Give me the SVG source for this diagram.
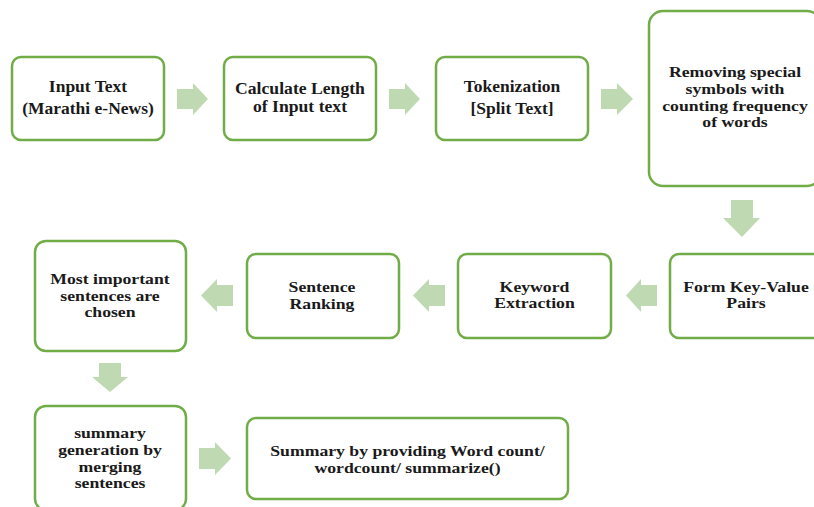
<svg xmlns="http://www.w3.org/2000/svg" width="814" height="507" viewBox="0 0 814 507">
<style>
.box{fill:#ffffff;stroke:#70AD47;stroke-width:2.5}
.arr{fill:#BFD9B2;stroke:none}
.t{font-family:"Liberation Serif","Times New Roman","DejaVu Serif",serif;font-weight:bold;fill:#1a1a1a;text-anchor:middle}
.t17{font-size:17px}
.t16{font-size:16.5px}
.t15{font-size:15px}
</style>
<rect width="814" height="507" fill="#ffffff"/>
<g id="connectors">
<polygon class="arr" points="177,89 193,89 193,83 208,99 193,115 193,109 177,109"/>
<polygon class="arr" points="389,89 405,89 405,83 420,99 405,115 405,109 389,109"/>
<polygon class="arr" points="601,89 617,89 617,83 633,99 617,115 617,109 601,109"/>
<polygon class="arr" points="731,200 753,200 753,218 760,218 742,237 723,218 731,218"/>
<polygon class="arr" points="657,285 641,285 641,279 626,295.5 641,312 641,306 657,306"/>
<polygon class="arr" points="445,285 429,285 429,279 413,295.5 429,312 429,306 445,306"/>
<polygon class="arr" points="233,285 217,285 217,279 201,295.5 217,312 217,306 233,306"/>
<polygon class="arr" points="99,363 121,363 121,377 128,377 110,392 92,377 99,377"/>
<polygon class="arr" points="199,448 215,448 215,442 231,458.5 215,475 215,469 199,469"/>
</g>
<g id="n1">
<rect class="box" x="12" y="57" width="152" height="83" rx="9"/>
<text class="t t17" transform="translate(88,92) scale(1.03,1)">Input  Text</text>
<text class="t t17" transform="translate(88,114) scale(1.03,1)">(Marathi  e-News)</text>
</g>
<g id="n2">
<rect class="box" x="224" y="57" width="152" height="83" rx="9"/>
<text class="t t16" transform="translate(300,94) scale(1.07,1)">Calculate Length</text>
<text class="t t16" transform="translate(300,112) scale(1.07,1)">of Input  text</text>
</g>
<g id="n3">
<rect class="box" x="436" y="57" width="152" height="83" rx="9"/>
<text class="t t17" transform="translate(512,92) scale(1.03,1)">Tokenization</text>
<text class="t t17" transform="translate(512,114) scale(1.03,1)">[Split  Text]</text>
</g>
<g id="n4">
<rect class="box" x="649" y="11" width="172" height="175" rx="14"/>
<text class="t t15" transform="translate(735,77) scale(1.18,1)">Removing special</text>
<text class="t t15" transform="translate(735,94) scale(1.18,1)">symbols  with</text>
<text class="t t15" transform="translate(735,111) scale(1.18,1)">counting frequency</text>
<text class="t t15" transform="translate(735,127) scale(1.18,1)">of words</text>
</g>
<g id="n5">
<rect class="box" x="670" y="254" width="152" height="84" rx="9"/>
<text class="t t15" transform="translate(746,292) scale(1.18,1)">Form Key-Value</text>
<text class="t t15" transform="translate(746,308) scale(1.18,1)">Pairs</text>
</g>
<g id="n6">
<rect class="box" x="458" y="254" width="153" height="84" rx="9"/>
<text class="t t15" transform="translate(534.5,292) scale(1.18,1)">Keyword</text>
<text class="t t15" transform="translate(534.5,308) scale(1.18,1)">Extraction</text>
</g>
<g id="n7">
<rect class="box" x="247" y="254" width="152" height="84" rx="9"/>
<text class="t t15" transform="translate(322,292) scale(1.18,1)">Sentence</text>
<text class="t t15" transform="translate(322,309) scale(1.18,1)">Ranking</text>
</g>
<g id="n8">
<rect class="box" x="35" y="241" width="151" height="110" rx="11"/>
<text class="t t15" transform="translate(110,284) scale(1.18,1)">Most important</text>
<text class="t t15" transform="translate(110,301) scale(1.18,1)">sentences are</text>
<text class="t t15" transform="translate(110,317) scale(1.18,1)">chosen</text>
</g>
<g id="n9">
<rect class="box" x="35" y="406" width="151" height="104" rx="11"/>
<text class="t t15" transform="translate(110,438) scale(1.18,1)">summary</text>
<text class="t t15" transform="translate(110,455) scale(1.18,1)">generation by</text>
<text class="t t15" transform="translate(110,472) scale(1.18,1)">merging</text>
<text class="t t15" transform="translate(110,488) scale(1.18,1)">sentences</text>
</g>
<g id="n10">
<rect class="box" x="247" y="418" width="321" height="81" rx="9"/>
<text class="t t15" transform="translate(407.5,455.5) scale(1.18,1)">Summary by providing Word  count/</text>
<text class="t t15" transform="translate(407.5,473) scale(1.18,1)">wordcount/ summarize()</text>
</g>
</svg>
